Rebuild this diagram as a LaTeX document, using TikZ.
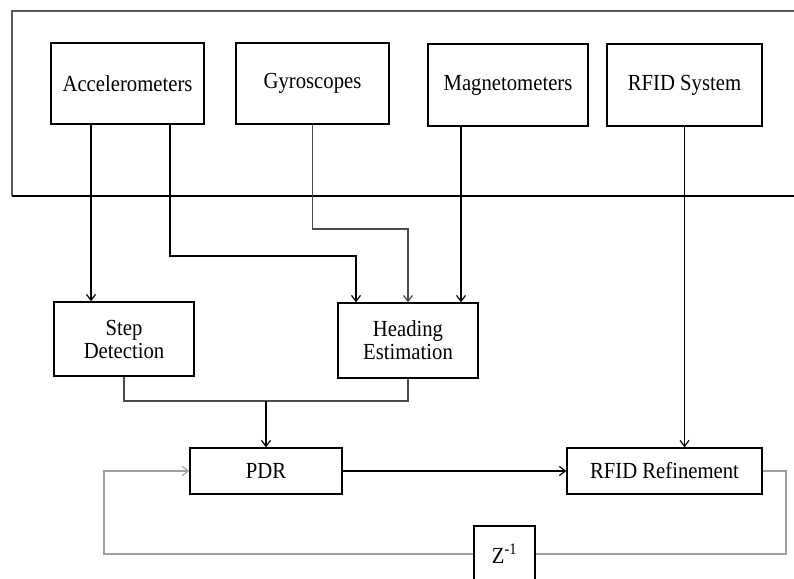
\documentclass[tikz,border=0pt]{standalone}
\usepackage{fontspec}
\setmainfont{Liberation Serif}[FakeStretch=0.9]
\usepackage{tikz}
\usetikzlibrary{arrows.meta}

\begin{document}
\begin{tikzpicture}[x=1pt, y=-1pt,
    >={Straight Barb[length=6pt,width=9pt]},
    line width=1.2pt,
    block/.style={draw, line width=1.3pt, inner sep=0pt, align=center,
      font=\fontsize{23}{23}\selectfont},
    faint/.style={draw=gray!75}]
  \useasboundingbox (0,0) rectangle (794,578);

  % Outer frame (open to the right)
  \draw[gray!70!black, line width=1.4pt] (800,11) -- (12,11) -- (12,196);
  \draw (12,196) -- (800,196);

  % Sensor blocks
  \node[block, minimum width=153, minimum height=81] (acc) at (127.5,83.5) {Accelerometers};
  \node[block, minimum width=153, minimum height=81] (gyro) at (312.5,83.5) {Gyroscopes};
  \node[block, minimum width=160, minimum height=82] (mag) at (508,85) {Magnetometers};
  \node[block, minimum width=155, minimum height=82] (rfid) at (684.5,85) {RFID System};

  % Processing blocks
  \node[block, minimum width=140, minimum height=74] (step) at (124,339) {Step\\Detection};
  \node[block, minimum width=140, minimum height=75] (head) at (408,340.5) {Heading\\Estimation};
  \node[block, minimum width=152, minimum height=46] (pdr) at (266,471) {PDR};
  \node[block, minimum width=195, minimum height=46] (refine) at (664.5,471) {RFID Refinement};
  \node[block, minimum width=61, minimum height=56] (zinv) at (504.5,554) {Z\textsuperscript{-1}};

  % Bend points
  \coordinate (accbend) at (356,256);
  \coordinate (gyrobend) at (408,229);
  \coordinate (merge) at (266,401);
  \coordinate (fbright) at (786,554);
  \coordinate (fbleft) at (104,554);

  % Sensors to processing
  \draw[->] ([xshift=-36.5pt]acc.south) -- ([xshift=-36.5pt]acc.south |- step.north);
  \draw[->] ([xshift=42.5pt]acc.south) |- (accbend) -- (accbend |- head.north);
  \draw[->, gray!60!black] (gyro.south) |- (gyrobend) -- (head.north);
  \draw[->] ([xshift=-47pt]mag.south) -- ([xshift=-47pt]mag.south |- head.north);
  \draw[->] (rfid.south) -- (rfid.south |- refine.north);

  % Step and heading into PDR
  \draw[gray!60!black] (step.south) |- (merge) -| (head.south);
  \draw[->] (merge) -- (pdr.north);
  \draw[->] (pdr) -- (refine);

  % Feedback loop
  \draw[faint] (refine.east) -| (fbright) -- (zinv.east);
  \draw[faint, ->] (zinv.west) -- (fbleft) |- (pdr.west);

\end{tikzpicture}
\end{document}
